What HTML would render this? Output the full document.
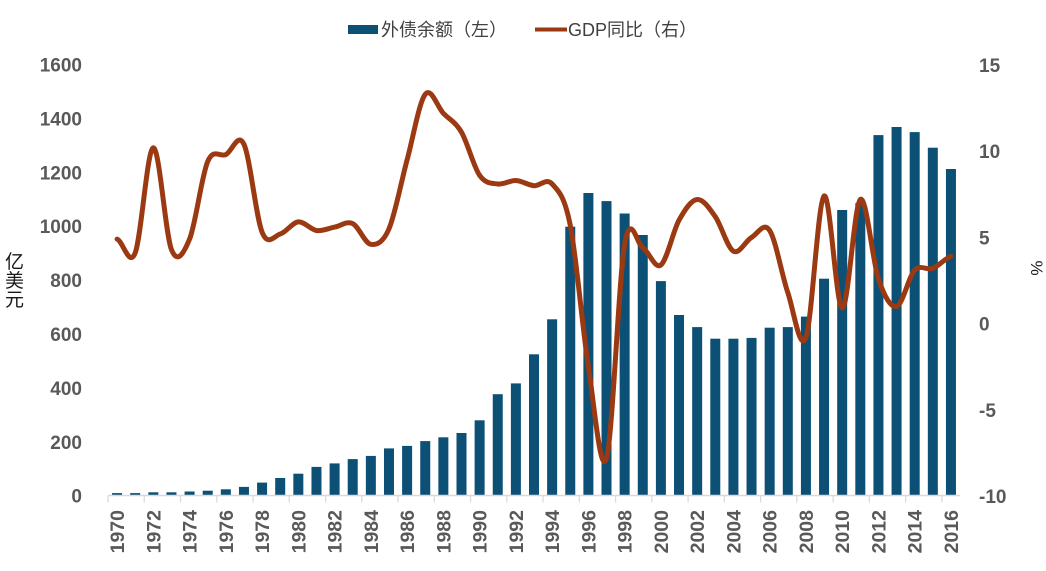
<!DOCTYPE html>
<html><head><meta charset="utf-8"><style>
html,body{margin:0;padding:0;background:#fff;}
svg{display:block;}
.ax{font-family:"Liberation Sans","Noto Sans CJK SC",sans-serif;font-size:19px;font-weight:bold;fill:#595959;}
.xl{font-family:"Liberation Sans",sans-serif;font-size:19.5px;font-weight:bold;fill:#595959;}
.lg{font-family:"Liberation Sans","Noto Sans CJK SC",sans-serif;font-size:18px;fill:#404040;}
</style></head><body>
<svg width="1046" height="571" viewBox="0 0 1046 571" xmlns="http://www.w3.org/2000/svg">
<rect width="1046" height="571" fill="#fff"/>
<rect x="348" y="25" width="30" height="9" fill="#0c5075"/>
<text class="lg" x="381" y="36">外债余额（左）</text>
<line x1="535" y1="29.5" x2="567" y2="29.5" stroke="#9b3a12" stroke-width="4"/>
<text class="lg" x="568" y="36">GDP同比（右）</text>
<g class="ax" text-anchor="end">
<text x="82" y="71.5">1600</text>
<text x="82" y="125.4">1400</text>
<text x="82" y="179.3">1200</text>
<text x="82" y="233.2">1000</text>
<text x="82" y="287.1">800</text>
<text x="82" y="341">600</text>
<text x="82" y="394.9">400</text>
<text x="82" y="448.8">200</text>
<text x="82" y="502.5">0</text>
</g>
<g class="ax">
<text x="979" y="72">15</text>
<text x="979" y="158.2">10</text>
<text x="979" y="244.4">5</text>
<text x="979" y="330.6">0</text>
<text x="979" y="416.8">-5</text>
<text x="979" y="503">-10</text>
</g>
<g font-family="'Liberation Sans','Noto Sans CJK SC',sans-serif" font-size="19" fill="#1a1a1a">
<text x="5" y="268">亿</text>
<text x="5" y="287">美</text>
<text x="5" y="306">元</text>
</g>
<text transform="translate(1031,268) rotate(90)" text-anchor="middle" font-family="'Liberation Sans',sans-serif" font-size="17" fill="#1a1a1a">%</text>
<g transform="translate(0,495.5) scale(1,-1)" fill="#0c5075">
<rect x="112.06" y="0" width="10" height="2.4"/>
<rect x="130.19" y="0" width="10" height="2.4"/>
<rect x="148.32" y="0" width="10" height="3.2"/>
<rect x="166.44" y="0" width="10" height="3.2"/>
<rect x="184.57" y="0" width="10" height="4.0"/>
<rect x="202.70" y="0" width="10" height="4.8"/>
<rect x="220.83" y="0" width="10" height="6.2"/>
<rect x="238.96" y="0" width="10" height="8.6"/>
<rect x="257.08" y="0" width="10" height="12.9"/>
<rect x="275.21" y="0" width="10" height="17.5"/>
<rect x="293.34" y="0" width="10" height="21.8"/>
<rect x="311.47" y="0" width="10" height="28.6"/>
<rect x="329.60" y="0" width="10" height="32.1"/>
<rect x="347.72" y="0" width="10" height="36.4"/>
<rect x="365.85" y="0" width="10" height="39.6"/>
<rect x="383.98" y="0" width="10" height="47.1"/>
<rect x="402.11" y="0" width="10" height="49.6"/>
<rect x="420.24" y="0" width="10" height="54.4"/>
<rect x="438.36" y="0" width="10" height="58.2"/>
<rect x="456.49" y="0" width="10" height="62.5"/>
<rect x="474.62" y="0" width="10" height="75.2"/>
<rect x="492.75" y="0" width="10" height="101.3"/>
<rect x="510.88" y="0" width="10" height="112.1"/>
<rect x="529.00" y="0" width="10" height="141.2"/>
<rect x="547.13" y="0" width="10" height="176.2"/>
<rect x="565.26" y="0" width="10" height="268.8"/>
<rect x="583.39" y="0" width="10" height="302.5"/>
<rect x="601.52" y="0" width="10" height="294.4"/>
<rect x="619.64" y="0" width="10" height="282.0"/>
<rect x="637.77" y="0" width="10" height="260.5"/>
<rect x="655.90" y="0" width="10" height="214.4"/>
<rect x="674.03" y="0" width="10" height="180.5"/>
<rect x="692.16" y="0" width="10" height="168.4"/>
<rect x="710.28" y="0" width="10" height="156.8"/>
<rect x="728.41" y="0" width="10" height="156.8"/>
<rect x="746.54" y="0" width="10" height="157.6"/>
<rect x="764.67" y="0" width="10" height="167.8"/>
<rect x="782.80" y="0" width="10" height="168.4"/>
<rect x="800.92" y="0" width="10" height="178.9"/>
<rect x="819.05" y="0" width="10" height="216.8"/>
<rect x="837.18" y="0" width="10" height="285.5"/>
<rect x="855.31" y="0" width="10" height="292.3"/>
<rect x="873.44" y="0" width="10" height="360.4"/>
<rect x="891.56" y="0" width="10" height="368.5"/>
<rect x="909.69" y="0" width="10" height="363.4"/>
<rect x="927.82" y="0" width="10" height="347.8"/>
<rect x="945.95" y="0" width="10" height="326.5"/>
</g>
<line x1="108" y1="495.5" x2="960" y2="495.5" stroke="#d9d9d9" stroke-width="1.5"/>
<g stroke="#d9d9d9" stroke-width="1.2">
<line x1="108" y1="495.5" x2="108" y2="502.5"/>
<line x1="144.26" y1="495.5" x2="144.26" y2="502.5"/>
<line x1="180.51" y1="495.5" x2="180.51" y2="502.5"/>
<line x1="216.77" y1="495.5" x2="216.77" y2="502.5"/>
<line x1="253.02" y1="495.5" x2="253.02" y2="502.5"/>
<line x1="289.28" y1="495.5" x2="289.28" y2="502.5"/>
<line x1="325.54" y1="495.5" x2="325.54" y2="502.5"/>
<line x1="361.79" y1="495.5" x2="361.79" y2="502.5"/>
<line x1="398.05" y1="495.5" x2="398.05" y2="502.5"/>
<line x1="434.30" y1="495.5" x2="434.30" y2="502.5"/>
<line x1="470.56" y1="495.5" x2="470.56" y2="502.5"/>
<line x1="506.82" y1="495.5" x2="506.82" y2="502.5"/>
<line x1="543.07" y1="495.5" x2="543.07" y2="502.5"/>
<line x1="579.33" y1="495.5" x2="579.33" y2="502.5"/>
<line x1="615.58" y1="495.5" x2="615.58" y2="502.5"/>
<line x1="651.84" y1="495.5" x2="651.84" y2="502.5"/>
<line x1="688.10" y1="495.5" x2="688.10" y2="502.5"/>
<line x1="724.35" y1="495.5" x2="724.35" y2="502.5"/>
<line x1="760.61" y1="495.5" x2="760.61" y2="502.5"/>
<line x1="796.86" y1="495.5" x2="796.86" y2="502.5"/>
<line x1="833.12" y1="495.5" x2="833.12" y2="502.5"/>
<line x1="869.38" y1="495.5" x2="869.38" y2="502.5"/>
<line x1="905.63" y1="495.5" x2="905.63" y2="502.5"/>
<line x1="941.89" y1="495.5" x2="941.89" y2="502.5"/>
</g>
<g class="xl" text-anchor="end">
<text transform="translate(124,510) rotate(-90)">1970</text>
<text transform="translate(160.3,510) rotate(-90)">1972</text>
<text transform="translate(196.5,510) rotate(-90)">1974</text>
<text transform="translate(232.8,510) rotate(-90)">1976</text>
<text transform="translate(269,510) rotate(-90)">1978</text>
<text transform="translate(305.3,510) rotate(-90)">1980</text>
<text transform="translate(341.5,510) rotate(-90)">1982</text>
<text transform="translate(377.8,510) rotate(-90)">1984</text>
<text transform="translate(414,510) rotate(-90)">1986</text>
<text transform="translate(450.3,510) rotate(-90)">1988</text>
<text transform="translate(486.6,510) rotate(-90)">1990</text>
<text transform="translate(522.8,510) rotate(-90)">1992</text>
<text transform="translate(559.1,510) rotate(-90)">1994</text>
<text transform="translate(595.3,510) rotate(-90)">1996</text>
<text transform="translate(631.6,510) rotate(-90)">1998</text>
<text transform="translate(667.8,510) rotate(-90)">2000</text>
<text transform="translate(704.1,510) rotate(-90)">2002</text>
<text transform="translate(740.4,510) rotate(-90)">2004</text>
<text transform="translate(776.6,510) rotate(-90)">2006</text>
<text transform="translate(812.9,510) rotate(-90)">2008</text>
<text transform="translate(849.1,510) rotate(-90)">2010</text>
<text transform="translate(885.4,510) rotate(-90)">2012</text>
<text transform="translate(921.6,510) rotate(-90)">2014</text>
<text transform="translate(957.9,510) rotate(-90)">2016</text>
</g>
<path fill="none" stroke="#9b3a12" stroke-width="5" stroke-linejoin="round" stroke-linecap="round" d="M117.06,239.1 C123.10,241.4 129.15,268.12 135.19,252.9 C141.23,237.68 147.28,148.37 153.32,147.8 C159.36,147.23 165.40,234.28 171.44,249.5 C177.48,264.72 183.53,253.77 189.57,239.1 C195.61,224.43 201.66,175.58 207.70,161.5 C213.74,147.42 219.79,157.47 225.83,154.6 C231.87,151.73 237.92,131.37 243.96,144.3 C250.00,157.23 256.04,217.25 262.08,232.2 C268.12,247.15 274.17,235.72 280.21,234.0 C286.25,232.28 292.30,222.48 298.34,221.9 C304.38,221.32 310.43,229.63 316.47,230.5 C322.51,231.37 328.56,228.25 334.60,227.1 C340.64,225.95 346.68,220.73 352.72,223.6 C358.76,226.47 364.81,243.43 370.85,244.3 C376.89,245.17 382.94,242.88 388.98,228.8 C395.02,214.72 401.07,182.22 407.11,159.8 C413.15,137.38 419.20,102.05 425.24,94.3 C431.28,86.55 437.32,106.98 443.36,113.3 C449.40,119.62 455.45,121.87 461.49,132.2 C467.53,142.53 473.58,166.67 479.62,175.3 C485.66,183.93 491.71,183.13 497.75,184.0 C503.79,184.87 509.84,180.22 515.88,180.5 C521.92,180.78 527.96,185.12 534.00,185.7 C540.04,186.28 546.09,177.4 552.13,184.0 C558.17,190.6 564.22,194.85 570.26,225.3 C576.30,255.75 582.35,327.9 588.39,366.7 C594.43,405.5 600.48,478.5 606.52,458.1 C612.56,437.7 618.60,279.37 624.64,244.3 C630.68,209.23 636.73,244.25 642.77,247.7 C648.81,251.15 654.86,269.58 660.90,265.0 C666.94,260.42 672.99,231.12 679.03,220.2 C685.07,209.28 691.12,200.08 697.16,199.5 C703.20,198.92 709.24,208.08 715.28,216.7 C721.32,225.32 727.37,247.75 733.41,251.2 C739.45,254.65 745.50,240.85 751.54,237.4 C757.58,233.95 763.63,221.3 769.67,230.5 C775.71,239.7 781.76,274.78 787.80,292.6 C793.84,310.42 799.88,353.5 805.92,337.4 C811.96,321.3 818.01,200.88 824.05,196.0 C830.09,191.12 836.14,307.52 842.18,308.1 C848.22,308.68 854.27,204.38 860.31,199.5 C866.35,194.62 872.40,260.98 878.44,278.8 C884.48,296.62 890.52,307.83 896.56,306.4 C902.60,304.97 908.65,276.53 914.69,270.2 C920.73,263.87 926.78,270.7 932.82,268.4 C938.86,266.1 944.91,258.4 950.95,256.4"/>
</svg>
</body></html>
